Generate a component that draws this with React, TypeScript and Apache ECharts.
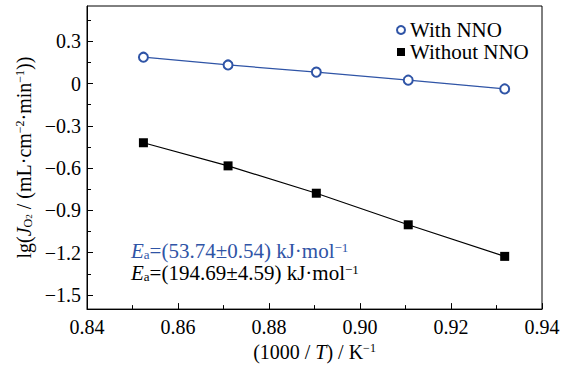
import React, { useEffect, useRef } from "react";
import * as echarts from "echarts";

const xValues = [0.8524, 0.871, 0.8904, 0.9106, 0.9318];
const withNNO = [0.187, 0.132, 0.081, 0.024, -0.038];
const withoutNNO = [-0.42, -0.584, -0.778, -1.002, -1.226];
const yTickLabels = [-1.5, -1.2, -0.9, -0.6, -0.3, 0, 0.3];
const yMinorTicks = [-1.35, -1.05, -0.75, -0.45, -0.15, 0.15, 0.45];
const seriesNames = ["With NNO", "Without NNO"];
const eaTexts = ["=(53.74\u00b10.54) kJ\u00b7mol", "=(194.69\u00b14.59) kJ\u00b7mol"];

const FONT = "Liberation Serif";
const BLUE = "#2f54a6";

export default function App() {
  const ref = useRef<HTMLDivElement>(null);
  useEffect(() => {
    if (!ref.current) return;
    document.body.style.margin = "0";
    const chart = echarts.init(ref.current, null, { renderer: "svg" });
    const fmtY = (v: number) => (v === 0 ? "0" : v.toFixed(1).replace("-", "\u2212"));
    const richBase = {
      i: { fontFamily: FONT, fontStyle: "italic", fontSize: 20 },
      sub: { fontFamily: FONT, fontSize: 12, verticalAlign: "bottom", lineHeight: 12 },
      sub2: { fontFamily: FONT, fontSize: 9, verticalAlign: "bottom", lineHeight: 10 },
      sup: { fontFamily: FONT, fontSize: 12, verticalAlign: "top", lineHeight: 12 },
      n: { fontFamily: FONT, fontSize: 20 },
    };
    const richAnn = {
      i: { fontFamily: FONT, fontStyle: "italic", fontSize: 21, lineHeight: 20 },
      sub: { fontFamily: FONT, fontSize: 13, verticalAlign: "bottom", lineHeight: 13 },
      sup: { fontFamily: FONT, fontSize: 13, verticalAlign: "top", lineHeight: 13 },
      n: { fontFamily: FONT, fontSize: 21, lineHeight: 20 },
    };
    chart.setOption({
      animation: false,
      textStyle: { fontFamily: FONT },
      grid: {
        left: 87,
        right: 28,
        top: 6,
        bottom: 57,
        show: true,
        borderColor: "#000",
        borderWidth: 1,
      },
      legend: {
        orient: "vertical",
        left: 391,
        top: 14,
        itemGap: 0,
        itemWidth: 8,
        itemHeight: 8,
        textStyle: { fontFamily: FONT, fontSize: 21, color: "#000", lineHeight: 22 },
        data: [
          { name: seriesNames[0], icon: "emptyCircle", itemStyle: { borderWidth: 1 } },
          { name: seriesNames[1], icon: "rect" },
        ],
      },
      xAxis: {
        type: "value",
        min: 0.84,
        max: 0.94,
        interval: 0.02,
        axisLine: { onZero: false, lineStyle: { color: "#000", width: 1 } },
        axisTick: { inside: true, length: 6, lineStyle: { color: "#000" } },
        minorTick: { show: true, splitNumber: 2, length: 4, lineStyle: { color: "#000" } },
        splitLine: { show: false },
        axisLabel: {
          fontFamily: FONT,
          fontSize: 20,
          color: "#000",
          margin: 8,
          formatter: (v: number) => v.toFixed(2),
        },
        name: "{n|(1000 / }{i|T}{n|) / K}{sup|\u22121}",
        nameLocation: "middle",
        nameGap: 30,
        nameTextStyle: { rich: richBase },
      },
      yAxis: [
        {
          type: "value",
          min: -1.6,
          max: 0.55,
          position: "left",
          axisLine: { show: true, onZero: false, lineStyle: { color: "#000", width: 1 } },
          axisTick: {
            show: true,
            inside: true,
            length: 6,
            customValues: yTickLabels,
            lineStyle: { color: "#000" },
          },
          splitLine: { show: false },
          axisLabel: {
            fontFamily: FONT,
            fontSize: 20,
            color: "#000",
            margin: 6,
            customValues: yTickLabels,
            formatter: fmtY,
          },
          name:
            "{n|lg(}{i|J}{sub|O}{sub2|2}{n| / (mL\u00b7cm}{sup|\u22122}{n|\u00b7min}{sup|\u22121}{n|))}",
          nameLocation: "middle",
          nameGap: 50,
          nameTextStyle: { rich: richBase },
        },
        {
          type: "value",
          min: -1.6,
          max: 0.55,
          position: "left",
          offset: 0,
          axisLine: { show: false, onZero: false },
          axisTick: {
            show: true,
            inside: true,
            length: 4,
            customValues: yMinorTicks,
            lineStyle: { color: "#000" },
          },
          axisLabel: { show: false },
          splitLine: { show: false },
        },
      ],
      series: [
        {
          name: seriesNames[0],
          type: "line",
          data: xValues.map((x, i) => [x, withNNO[i]]),
          symbol: "emptyCircle",
          symbolSize: 9,
          lineStyle: { color: BLUE, width: 1.2 },
          itemStyle: { color: BLUE, borderWidth: 1.2 },
        },
        {
          name: seriesNames[1],
          type: "line",
          data: xValues.map((x, i) => [x, withoutNNO[i]]),
          symbol: "rect",
          symbolSize: 9,
          lineStyle: { color: "#000", width: 1.2 },
          itemStyle: { color: "#000" },
        },
      ],
      graphic: [
        {
          type: "text",
          left: 131,
          top: 240,
          style: {
            text: "{i|E}{sub|a}{n|" + eaTexts[0] + "}{sup|\u22121}",
            fill: BLUE,
            rich: richAnn,
          },
        },
        {
          type: "text",
          left: 131,
          top: 262,
          style: {
            text: "{i|E}{sub|a}{n|" + eaTexts[1] + "}{sup|\u22121}",
            fill: "#000",
            rich: richAnn,
          },
        },
      ],
    });
    return () => chart.dispose();
  }, []);
  return <div ref={ref} style={{ width: 570, height: 367 }} />;
}
